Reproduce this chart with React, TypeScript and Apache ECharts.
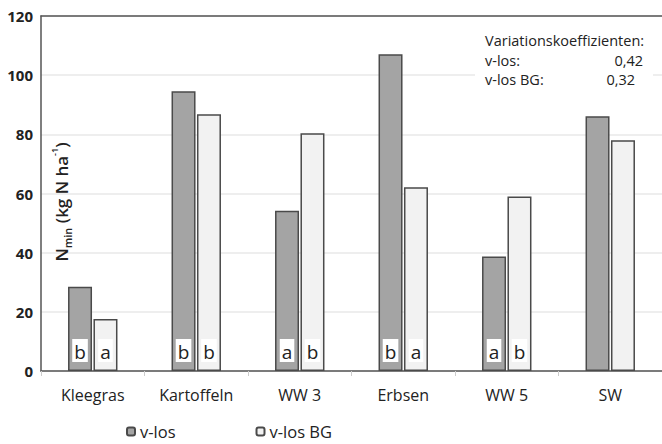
import React, { useEffect, useRef } from "react";
import * as echarts from "echarts";

const categories = ["Kleegras", "Kartoffeln", "WW 3", "Erbsen", "WW 5", "SW"];
const vlos = [28.5, 94.6, 54.2, 107.1, 38.7, 86.1];
const vlosBG = [17.6, 86.8, 80.4, 62.1, 59.0, 78.0];
const lettersVlos = ["b", "b", "a", "b", "a", ""];
const lettersBG = ["a", "b", "b", "a", "b", ""];
const yTicks = { min: 0, max: 120, interval: 20 };
const seriesNames = ["v-los", "v-los BG"];
const noteTitle = "Variationskoeffizienten:";
const noteRows = [
  { name: "v-los:", value: "0,42" },
  { name: "v-los BG:", value: "0,32" },
];

const FONT = "'Open Sans', 'Noto Sans', sans-serif";

export default function App() {
  const ref = useRef<HTMLDivElement>(null);
  useEffect(() => {
    document.body.style.margin = "0";
    if (!ref.current) return;
    const chart = echarts.init(ref.current, undefined, { renderer: "svg" });
    const letterLabel = {
      show: true,
      position: "insideBottom",
      distance: 9,
      backgroundColor: "#ffffff",
      padding: [3, 2, 1, 2],
      fontSize: 19,
      fontFamily: FONT,
      color: "#222",
    };
    const mk = (vals: number[], letters: string[]) =>
      vals.map((v, i) => ({
        value: v,
        label: letters[i] ? { ...letterLabel, formatter: letters[i] } : { show: false },
      }));
    const noteStyle = { fontSize: 14.5, fill: "#222", fontFamily: FONT, textVerticalAlign: "middle" };
    chart.setOption({
      animation: false,
      textStyle: { fontFamily: FONT },
      grid: { left: 41, right: 0, top: 16, bottom: 73 },
      legend: {
        data: seriesNames,
        left: 121,
        top: 418,
        itemWidth: 8,
        itemHeight: 8,
        itemGap: 80,
        textStyle: { fontSize: 16.5, color: "#222", fontFamily: FONT },
      },
      xAxis: [
        {
          type: "category",
          data: categories,
          axisLine: { lineStyle: { color: "#555", width: 1.5 } },
          axisTick: { show: true, length: 5, lineStyle: { color: "#ccc" } },
          axisLabel: { fontSize: 16, color: "#222", margin: 16, fontFamily: FONT },
        },
        {
          type: "category",
          data: categories,
          position: "top",
          axisLine: { lineStyle: { color: "#555", width: 1.5 } },
          axisTick: { show: false },
          axisLabel: { show: false },
        },
      ],
      yAxis: {
        type: "value",
        min: yTicks.min,
        max: yTicks.max,
        interval: yTicks.interval,
        axisLine: { show: true, lineStyle: { color: "#555", width: 1.5 } },
        axisTick: { show: false },
        axisLabel: { fontSize: 15, fontWeight: "bold", color: "#222", margin: 8, fontFamily: FONT },
        splitLine: { lineStyle: { color: "#e8e8e8", width: 1.5 } },
      },
      series: [
        {
          name: seriesNames[0],
          type: "bar",
          xAxisIndex: 0,
          barWidth: 24,
          barGap: "6%",
          itemStyle: { color: "#a4a4a4", borderColor: "#4a4a4a", borderWidth: 1.5 },
          data: mk(vlos, lettersVlos),
        },
        {
          name: seriesNames[1],
          type: "bar",
          xAxisIndex: 0,
          barWidth: 24,
          barGap: "6%",
          itemStyle: { color: "#f2f2f2", borderColor: "#4a4a4a", borderWidth: 1.5 },
          data: mk(vlosBG, lettersBG),
        },
      ],
      graphic: [
        {
          type: "rect",
          shape: { x: 475, y: 29, width: 178, height: 60 },
          style: { fill: "#ffffff" },
          z: 10,
        },
        { type: "text", x: 485, y: 40, z: 11, style: { ...noteStyle, text: noteTitle } },
        { type: "text", x: 485, y: 60, z: 11, style: { ...noteStyle, text: noteRows[0].name } },
        { type: "text", x: 643, y: 60, z: 11, style: { ...noteStyle, text: noteRows[0].value, textAlign: "right" } },
        { type: "text", x: 485, y: 79, z: 11, style: { ...noteStyle, text: noteRows[1].name } },
        { type: "text", x: 635, y: 79, z: 11, style: { ...noteStyle, text: noteRows[1].value, textAlign: "right" } },
        {
          type: "text",
          x: 60,
          y: 202,
          rotation: Math.PI / 2,
          z: 11,
          style: {
            text: "{m|N}{s|min}{m| (kg N ha}{p|-1}{m|)}",
            textAlign: "center",
            textVerticalAlign: "middle",
            fill: "#222",
            rich: {
              m: { fontSize: 17, fontWeight: 600, fontFamily: FONT, fill: "#222", verticalAlign: "bottom", lineHeight: 20 },
              s: { fontSize: 11, fontWeight: 600, fontFamily: FONT, fill: "#222", verticalAlign: "bottom", padding: [0, 0, -3, 0] },
              p: { fontSize: 9, fontWeight: 600, fontFamily: FONT, fill: "#222", verticalAlign: "top", padding: [0, 0, 8, 0] },
            },
          },
        },
      ],
    });
    return () => chart.dispose();
  }, []);
  return <div ref={ref} style={{ width: 662, height: 444 }} />;
}
